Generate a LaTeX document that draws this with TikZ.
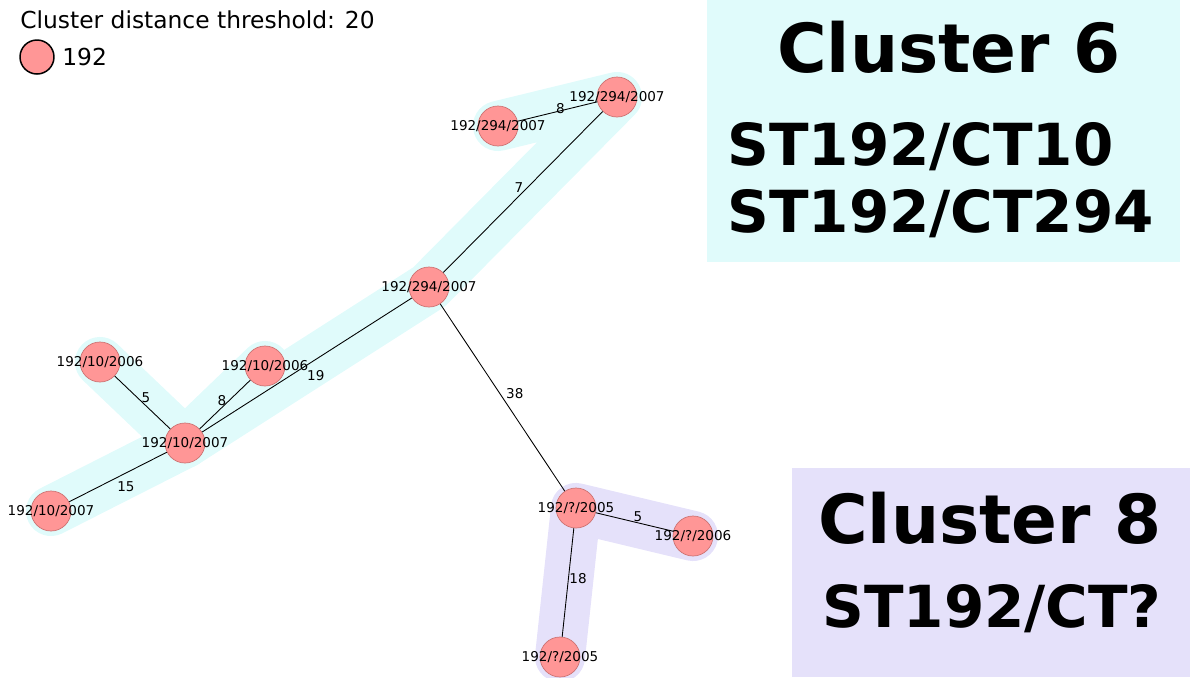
\documentclass[tikz,border=0pt]{standalone}
\usepackage{fontspec}
\setmainfont{DejaVu Sans}
\usetikzlibrary{backgrounds}
\definecolor{isopink}{RGB}{255,150,150}
\definecolor{isoedge}{RGB}{205,115,115}
\definecolor{hullcyan}{RGB}{224,251,251}
\definecolor{hulllilac}{RGB}{229,225,250}

\begin{document}
\begin{tikzpicture}[
 x=0.02cm,
 y=-0.02cm,
 iso/.style={circle,fill=isopink,draw=isoedge,line width=0.4pt,minimum size=0.8cm,inner sep=0pt,
  label={[isolbl]center:#1}},
 isolbl/.style={font=\fontsize{7.7}{9}\selectfont,inner sep=0pt},
 dist/.style={font=\fontsize{7.7}{9}\selectfont,inner sep=0pt},
 link/.style={draw=black,line width=0.5pt},
 hull/.style={line width=28.5pt,line cap=round,line join=round},
 legend/.style={font=\fontsize{13.3}{16}\selectfont,inner sep=0pt,anchor=base west},
 title/.style={font=\fontsize{38.5}{44}\selectfont\bfseries,inner sep=0pt,anchor=base},
 types/.style={font=\fontsize{33}{38}\selectfont\bfseries,inner sep=0pt,anchor=base west}
]
\useasboundingbox (0,0) rectangle (1190,677);
\fill [hullcyan] (707,0) rectangle (1180,262);
\fill [hulllilac] (792,468) rectangle (1190,677);

\node (legend-text) [legend] at (20,28) {Cluster distance threshold: 20};
\node (legend-dot) [circle,fill=isopink,draw=black,line width=0.85pt,minimum size=0.68cm] at (37,57) {};
\node (legend-st) [legend] at (62,65) {192};

\node (ct294-top) [iso=192/294/2007] at (617,97) {};
\node (ct294-left) [iso=192/294/2007] at (498,126) {};
\node (ct294-mid) [iso=192/294/2007] at (429,287) {};
\node (ct10-2006-a) [iso=192/10/2006] at (100,362) {};
\node (ct10-2006-b) [iso=192/10/2006] at (265,366) {};
\node (ct10-hub) [iso=192/10/2007] at (185,443) {};
\node (ct10-2007) [iso=192/10/2007] at (51,511) {};
\node (ctq-hub) [iso=192/?/2005] at (576,508) {};
\node (ctq-2006) [iso=192/?/2006] at (693,536) {};
\node (ctq-2005) [iso=192/?/2005] at (560,657) {};

\begin{pgfonlayer}{background}
\draw [hull,hullcyan] (ct10-2007.center) -- (ct10-hub.center) -- (ct294-mid.center)
 -- (ct294-top.center) -- (ct294-left.center);
\draw [hull,hullcyan] (ct10-2006-a.center) -- (ct10-hub.center);
\draw [hull,hullcyan] (ct10-2006-b.center) -- (ct10-hub.center);
\draw [hull,hulllilac] (ctq-2006.center) -- (ctq-hub.center) -- (ctq-2005.center);
\end{pgfonlayer}

\draw [link] (ct294-left) -- node [dist,xshift=1.7pt,yshift=1.7pt] {8} (ct294-top);
\draw [link] (ct294-top) -- node [dist,xshift=-2.3pt,yshift=2.8pt] {7} (ct294-mid);
\draw [link] (ct294-mid) -- node [dist,xshift=5pt,yshift=-6pt] {19} (ct10-hub);
\draw [link] (ct10-2006-b) -- node [dist,xshift=-1.7pt,yshift=2.5pt] {8} (ct10-hub);
\draw [link] (ct10-2006-a) -- node [dist,xshift=2pt,yshift=2.5pt] {5} (ct10-hub);
\draw [link] (ct10-2007) -- node [dist,xshift=4.5pt,yshift=-5.7pt] {15} (ct10-hub);
\draw [link] (ct294-mid) -- node [dist,xshift=7pt,yshift=2.5pt] {38} (ctq-hub);
\draw [link] (ctq-hub) -- node [dist,xshift=2pt,yshift=2.8pt] {5} (ctq-2006);
\draw [link] (ctq-hub) -- node [dist,xshift=5.7pt,yshift=2.5pt] {18} (ctq-2005);

\node (cluster6) [title] at (949,72) {Cluster 6};
\node (cluster6-ct10) [types] at (727,165) {ST192/CT10};
\node (cluster6-ct294) [types] at (727,232) {ST192/CT294};
\node (cluster8) [title] at (990,543) {Cluster 8};
\node (cluster8-ctq) [types] at (822,627) {ST192/CT?};
\end{tikzpicture}
\end{document}
